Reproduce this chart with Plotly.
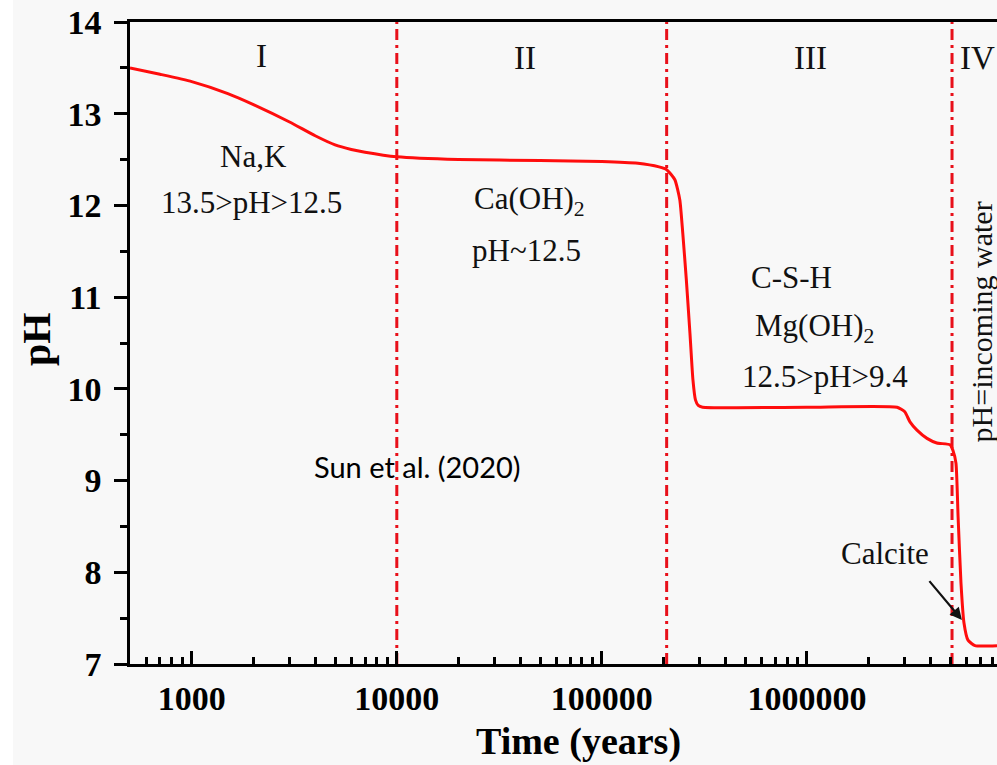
import numpy as np
import plotly.graph_objects as go

# ---- data ----
time_years = [500, 700, 1000, 1500, 2000, 3000, 4000, 5000, 6000, 7000, 10000,
              20000, 50000, 100000, 150000, 190000, 207000, 227000, 240000, 248000,
              258000, 269000, 278000, 286000, 295000, 310000, 1000000, 2750000,
              3000000, 3180000, 3440000, 3850000, 4300000, 4990000, 5150000,
              5330000, 5460000, 5640000, 5830000, 6100000, 6600000, 8450000]
ph_values = [13.50, 13.43, 13.35, 13.22, 13.10, 12.91, 12.76, 12.66, 12.61, 12.58, 12.53,
             12.50, 12.49, 12.48, 12.46, 12.42, 12.39, 12.28, 12.06, 11.70,
             11.20, 10.60, 10.10, 9.88, 9.82, 9.80, 9.80, 9.80,
             9.75, 9.64, 9.55, 9.46, 9.41, 9.39, 9.33,
             9.19, 8.60, 7.88, 7.45, 7.26, 7.20, 7.20]

boundary_years = [10000, 207000, 5100000]

x_tickvals = [1000, 10000, 100000, 1000000]
x_ticktext = ["1000", "10000", "100000", "1000000"]
y_tickvals = [7, 8, 9, 10, 11, 12, 13, 14]

x_range = [500, 8450000]
y_range = [7, 14]

stage_labels = ["I", "II", "III", "IV"]
stage_x = [2190, 42000, 1035000, 6820000]
stage_y = [13.63, 13.61, 13.61, 13.61]

notes_text = ["Na,K", "13.5>pH>12.5", "Ca(OH)<sub>2</sub>", "pH~12.5",
              "C-S-H", "Mg(OH)<sub>2</sub>", "12.5>pH>9.4"]
notes_x = [1990, 1960, 44600, 43000, 845000, 1090000, 1225000]
notes_y = [12.53, 12.03, 12.05, 11.51, 11.21, 10.66, 10.14]

SERIF = "Liberation Serif"
RED = "#ff0d0d"
DASH_RED = "#e8101a"

fig = go.Figure()

for bx in boundary_years:
    fig.add_trace(go.Scatter(
        x=[bx, bx], y=y_range, mode="lines",
        line=dict(color=DASH_RED, width=3, dash="11px,5px,3px,5px"),
        hoverinfo="skip", showlegend=False))

fig.add_trace(go.Scatter(
    x=time_years, y=ph_values, mode="lines",
    line=dict(color=RED, width=3, shape="spline", smoothing=0.5),
    showlegend=False))

annotations = []
for t, x, y in zip(stage_labels, stage_x, stage_y):
    annotations.append(dict(x=np.log10(x), y=y, text=t, showarrow=False,
                            font=dict(family=SERIF, size=33, color="#111")))
for t, x, y in zip(notes_text, notes_x, notes_y):
    annotations.append(dict(x=np.log10(x), y=y, text=t, showarrow=False,
                            font=dict(family=SERIF, size=31, color="#111")))

annotations.append(dict(x=np.log10(7100000), y=10.73, text="pH=incoming water",
                        textangle=-90, showarrow=False,
                        font=dict(family=SERIF, size=30, color="#111")))
annotations.append(dict(x=np.log10(2400000), y=8.21, text="Calcite", showarrow=False,
                        font=dict(family=SERIF, size=31, color="#111")))
annotations.append(dict(x=np.log10(5700000), y=7.48, ax=np.log10(3900000), ay=7.92,
                        axref="x", ayref="y", text="", showarrow=True,
                        arrowhead=2, arrowsize=1.1, arrowwidth=2.2, arrowcolor="#111"))
annotations.append(dict(x=np.log10(12600), y=9.15, text="Sun et al. (2020)",
                        showarrow=False, font=dict(family="Lato", size=29, color="#000")))
# axis titles
annotations.append(dict(xref="paper", yref="paper", x=(578 - 130) / 867, y=-(742 - 664) / 642,
                        xanchor="center", yanchor="middle",
                        text="<b>Time (years)</b>", showarrow=False,
                        font=dict(family=SERIF, size=38, color="#000")))
annotations.append(dict(xref="paper", yref="paper", x=-(130 - 36) / 867, y=(664 - 340) / 642,
                        xanchor="center", yanchor="middle",
                        text="<b>pH</b>", textangle=-90, showarrow=False,
                        font=dict(family=SERIF, size=40, color="#000")))

fig.update_layout(
    width=997, height=765,
    margin=dict(l=130, r=0, t=22, b=101),
    paper_bgcolor="#f8f8f8", plot_bgcolor="#f8f8f8",
    annotations=annotations,
    shapes=[dict(type="rect", xref="paper", yref="paper", x0=-0.16, x1=-(130 - 13) / 867,
                 y0=-0.2, y1=1.1, fillcolor="white", line=dict(width=0), layer="below")],
)

fig.update_xaxes(
    type="log", range=[np.log10(x_range[0]), np.log10(x_range[1])],
    tickvals=x_tickvals, ticktext=x_ticktext,
    ticks="inside", ticklen=13, tickwidth=2.5, tickcolor="#000",
    minor=dict(ticks="inside", ticklen=7, tickwidth=2.5, tickcolor="#000", dtick="D1"),
    showline=True, linecolor="#000", linewidth=2.5, mirror=True,
    showgrid=False, zeroline=False,
    tickfont=dict(family=SERIF, size=34, color="#000", weight="bold"),
    ticklabelstandoff=2,
)
fig.update_yaxes(
    range=y_range, tickvals=y_tickvals,
    ticks="outside", ticklen=13, tickwidth=2.5, tickcolor="#000",
    minor=dict(ticks="outside", ticklen=7, tickwidth=2.5, tickcolor="#000", dtick=0.5),
    showline=True, linecolor="#000", linewidth=2.5,
    showgrid=False, zeroline=False,
    tickfont=dict(family=SERIF, size=34, color="#000", weight="bold"),
    ticklabelstandoff=6,
)

fig.write_html("out.html", config={"displayModeBar": False},
               post_script="document.body.style.margin='0';document.body.style.overflow='hidden';")
